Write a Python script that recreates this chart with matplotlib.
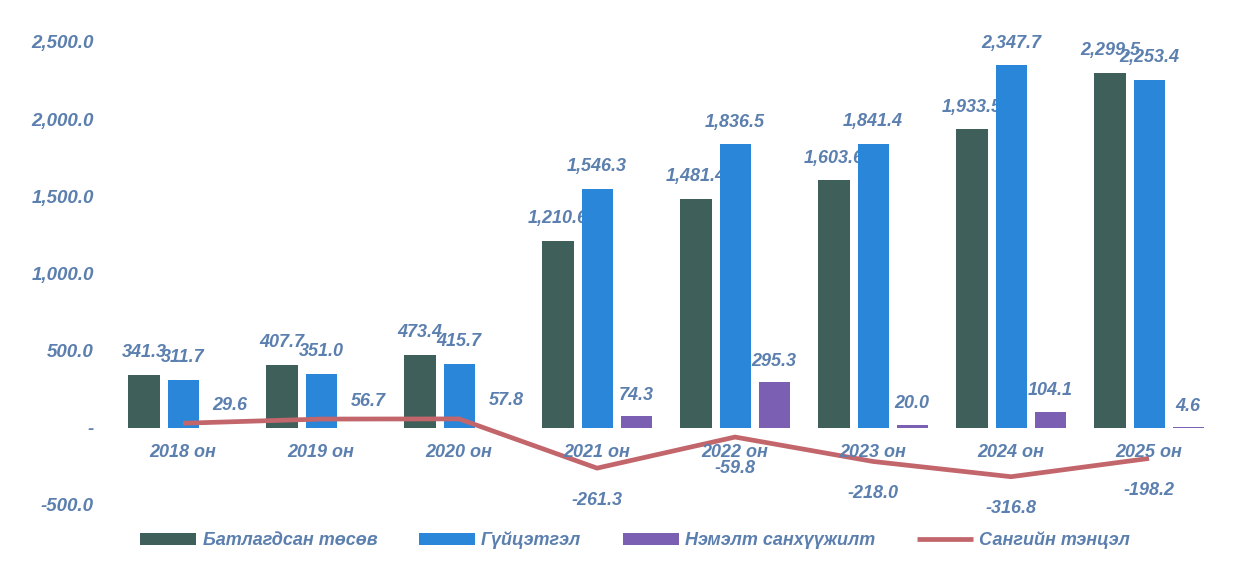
import matplotlib.pyplot as plt
import matplotlib.ticker as mticker
import numpy as np

years = ["2018 он", "2019 он", "2020 он", "2021 он", "2022 он", "2023 он", "2024 он", "2025 он"]
approved = [341.3, 407.7, 473.4, 1210.6, 1481.4, 1603.6, 1933.5, 2299.5]
actual = [311.7, 351.0, 415.7, 1546.3, 1836.5, 1841.4, 2347.7, 2253.4]
extra = [np.nan, np.nan, np.nan, 74.3, 295.3, 20.0, 104.1, 4.6]
balance = [29.6, 56.7, 57.8, -261.3, -59.8, -218.0, -316.8, -198.2]

legend_names = ["Батлагдсан төсөв", "Гүйцэтгэл", "Нэмэлт санхүүжилт", "Сангийн тэнцэл"]

DARK = '#3f5f5b'
BLUE = '#2a86d8'
PURPLE = '#7a5fb2'
RED = '#c2666c'
TXT = '#5b7fae'

plt.rcParams['font.family'] = ['Liberation Sans', 'DejaVu Sans']
font = dict(fontsize=13, fontweight='bold', fontstyle='italic', color=TXT)

fig = plt.figure(figsize=(12.58, 5.69), dpi=100)
ax = fig.add_axes([0.09, 0.1125, 0.87, 0.868])

x = np.arange(len(years))
w = 0.225
off = 0.283

b1 = ax.bar(x - off, approved, w, color=DARK, zorder=2, label=legend_names[0])
b2 = ax.bar(x, actual, w, color=BLUE, zorder=2.2, label=legend_names[1])
b3 = ax.bar(x + off, extra, w, color=PURPLE, zorder=2, label=legend_names[2])
ln, = ax.plot(x, balance, color=RED, lw=3.4, zorder=3, label=legend_names[3],
              solid_capstyle='butt')

# dark labels sit under the blue bars, like in the source chart
for xi, v in zip(x, approved):
    ax.annotate(f"{v:,.1f}", (xi - off, v), xytext=(0, 16), textcoords='offset points',
                ha='center', va='center', zorder=2.1, **font)
for xi, v in zip(x, actual):
    ax.annotate(f"{v:,.1f}", (xi, v), xytext=(0, 16), textcoords='offset points',
                ha='center', va='center', zorder=2.3, **font)
for xi, v in zip(x, extra):
    if not np.isnan(v):
        ax.annotate(f"{v:,.1f}", (xi + off, v), xytext=(0, 15), textcoords='offset points',
                    ha='center', va='center', zorder=4, **font)
for xi, v in zip(x, balance):
    if v > 0:
        ax.annotate(f"{v:,.1f}", (xi, v), xytext=(34, 13), textcoords='offset points',
                    ha='center', va='center', zorder=4, **font)
    else:
        ax.annotate(f"{v:,.1f}", (xi, v), xytext=(0, -23), textcoords='offset points',
                    ha='center', va='center', zorder=4, **font)

for xi, name in zip(x, years):
    ax.text(xi, -160, name, ha='center', va='center', zorder=4, **font)


def fmt(v, pos):
    if abs(v) < 1e-9:
        return "-"
    return f"{v:,.1f}"


ax.yaxis.set_major_formatter(mticker.FuncFormatter(fmt))
ax.set_yticks(np.arange(-500, 2501, 500))
ax.set_ylim(-500, 2700)
ax.set_xlim(-0.506, 7.425)
ax.set_xticks([])
for s in ax.spines.values():
    s.set_visible(False)
ax.tick_params(axis='y', length=0, pad=14)
for t in ax.get_yticklabels():
    t.set_fontweight('bold')
    t.set_fontstyle('italic')
    t.set_color(TXT)
    t.set_fontsize(13.5)

leg = fig.legend(handles=[b1, b2, b3, ln], loc='center', bbox_to_anchor=(0.505, 0.05),
                 ncol=4, frameon=False, handlelength=3.1, handleheight=0.7,
                 handletextpad=0.35, columnspacing=2.3,
                 prop=dict(size=13, weight='bold', style='italic'))
for t in leg.get_texts():
    t.set_color(TXT)

fig.savefig("out.png", dpi=100)
